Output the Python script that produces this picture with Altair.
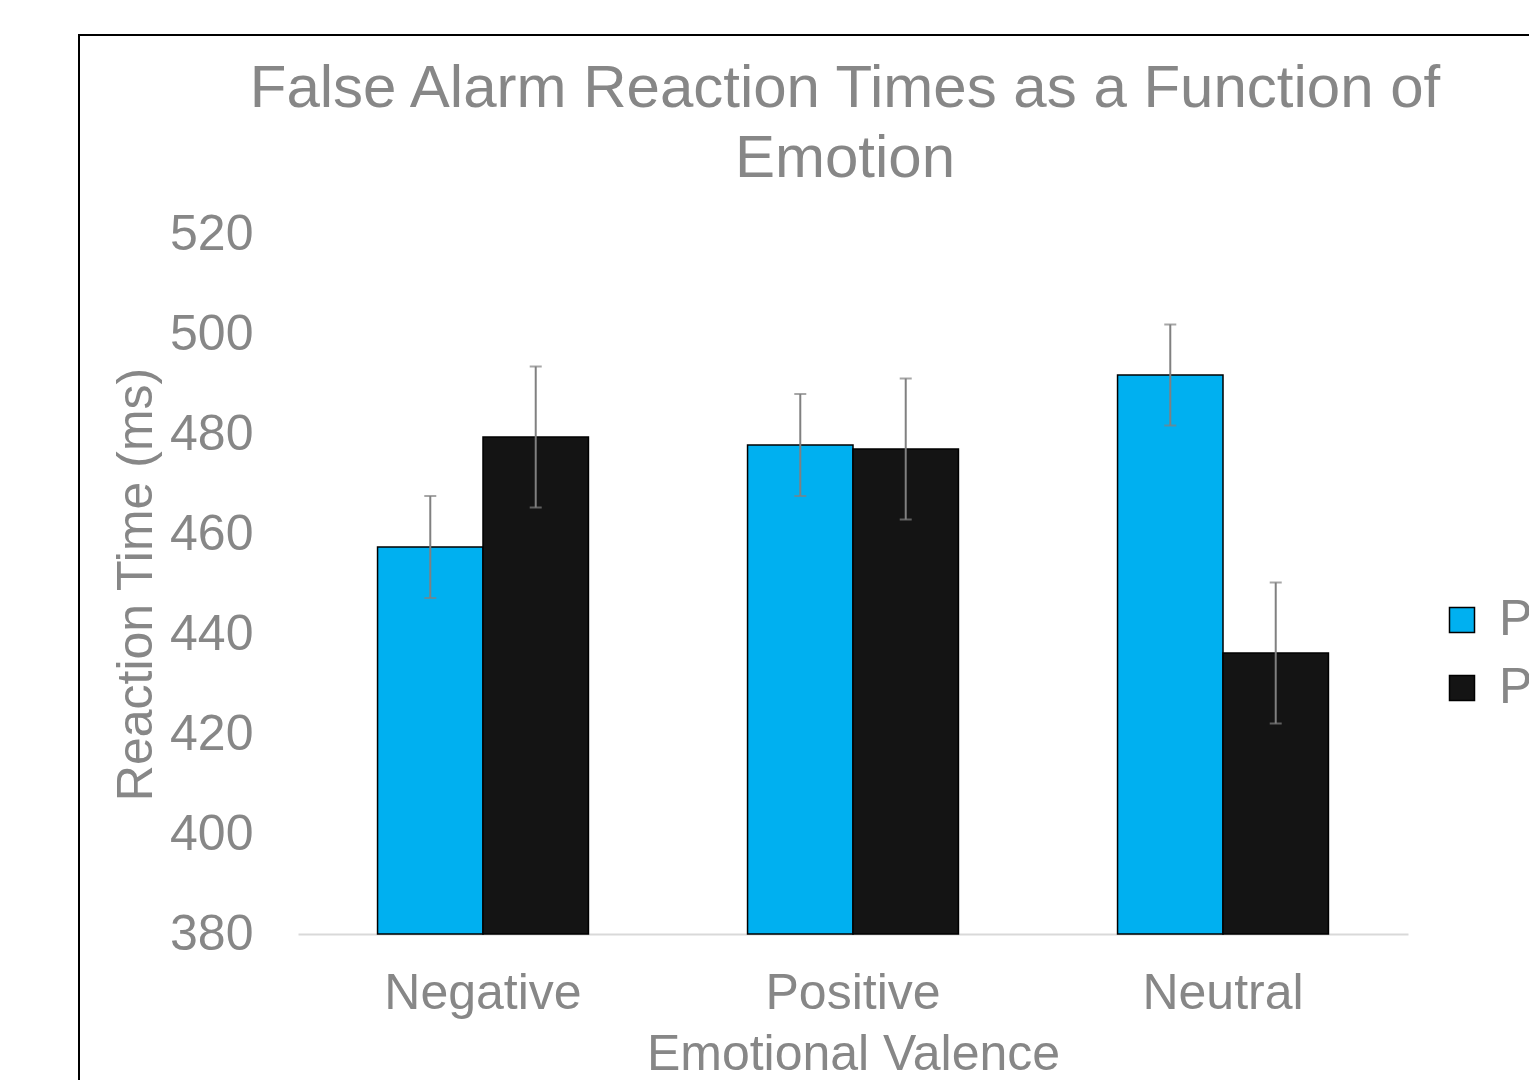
import altair as alt
import pandas as pd

categories = ["Negative", "Positive", "Neutral"]
series = ["Pre-test", "Post-test"]
pre_values = [457.4, 477.8, 491.8]
post_values = [479.4, 477.0, 436.2]
pre_errors = [10.2, 10.2, 10.1]
post_errors = [14.1, 14.1, 14.1]
y_ticks = [380, 400, 420, 440, 460, 480, 500, 520]

rows = []
for i, c in enumerate(categories):
    rows.append(dict(cat=c, grp=series[0], val=pre_values[i],
                     lo=pre_values[i] - pre_errors[i], hi=pre_values[i] + pre_errors[i]))
    rows.append(dict(cat=c, grp=series[1], val=post_values[i],
                     lo=post_values[i] - post_errors[i], hi=post_values[i] + post_errors[i]))
df = pd.DataFrame(rows)

FONT = "Liberation Sans"
GRAY = "#878787"
FS = 50

x = alt.X("cat:N", sort=categories,
          scale=alt.Scale(paddingInner=0.43, paddingOuter=0.215),
          axis=alt.Axis(title="Emotional Valence", labelAngle=0, labelFontSize=FS,
                        titleFontSize=FS, labelColor=GRAY, titleColor=GRAY,
                        labelFont=FONT, titleFont=FONT, titleFontWeight="normal",
                        ticks=False, domainColor="#D9D9D9", domainWidth=2,
                        labelPadding=34, titlePadding=11, labelLimit=1000))
xo = alt.XOffset("grp:N", sort=series, scale=alt.Scale(paddingInner=0, paddingOuter=0))
y = alt.Y("val:Q", scale=alt.Scale(domain=[380, 520], zero=False, nice=False),
          axis=alt.Axis(title="Reaction Time (ms)", values=y_ticks, labelFontSize=FS,
                        titleFontSize=FS, labelColor=GRAY, titleColor=GRAY,
                        labelFont=FONT, titleFont=FONT, titleFontWeight="normal",
                        ticks=False, domain=False, grid=False, labelPadding=45,
                        titlePadding=8))
color = alt.Color("grp:N", sort=series,
                  scale=alt.Scale(domain=series, range=["#00B0F0", "#141414"]),
                  legend=alt.Legend(title=None, orient="none", legendX=1139, legendY=361,
                                    symbolType="square", symbolSize=625,
                                    symbolStrokeColor="black", symbolStrokeWidth=1.5,
                                    labelFontSize=FS, labelColor=GRAY, labelFont=FONT,
                                    labelOffset=12, rowPadding=18, padding=0,
                                    labelLimit=1000))

bars = alt.Chart(df).mark_bar(stroke="black", strokeWidth=1.5).encode(
    x=x, xOffset=xo, y=y, y2=alt.datum(380), color=color)
rules = alt.Chart(df).mark_rule(color="#808080", strokeWidth=2).encode(
    x=x, xOffset=xo, y="lo:Q", y2="hi:Q")
cap_hi = alt.Chart(df).mark_tick(color="#808080", size=12, thickness=2,
                                 orient="horizontal").encode(x=x, xOffset=xo, y="hi:Q")
cap_lo = alt.Chart(df).mark_tick(color="#808080", size=12, thickness=2,
                                 orient="horizontal").encode(x=x, xOffset=xo, y="lo:Q")
border = alt.Chart(pd.DataFrame({"a": [0]})).mark_rect(
    fill="transparent", stroke="black", strokeWidth=2).encode(
    x=alt.value(79 - 298), y=alt.value(35 - 234), x2=alt.value(2000), y2=alt.value(2000))

chart = alt.layer(border, bars, rules, cap_hi, cap_lo).properties(
    width=1110, height=700,
    autosize=alt.AutoSizeParams(type="none"),
    padding={"left": 290, "top": 226, "right": 121, "bottom": 146},
    title=alt.TitleParams(text=["False Alarm Reaction Times as a Function of", "Emotion"],
                          fontSize=60, color=GRAY, font=FONT, fontWeight="normal",
                          anchor="middle", frame="group", lineHeight=70, dx=-8, dy=160),
).configure_view(stroke=None)

chart.save("out.html", embed_options={"renderer": "svg", "actions": False})
